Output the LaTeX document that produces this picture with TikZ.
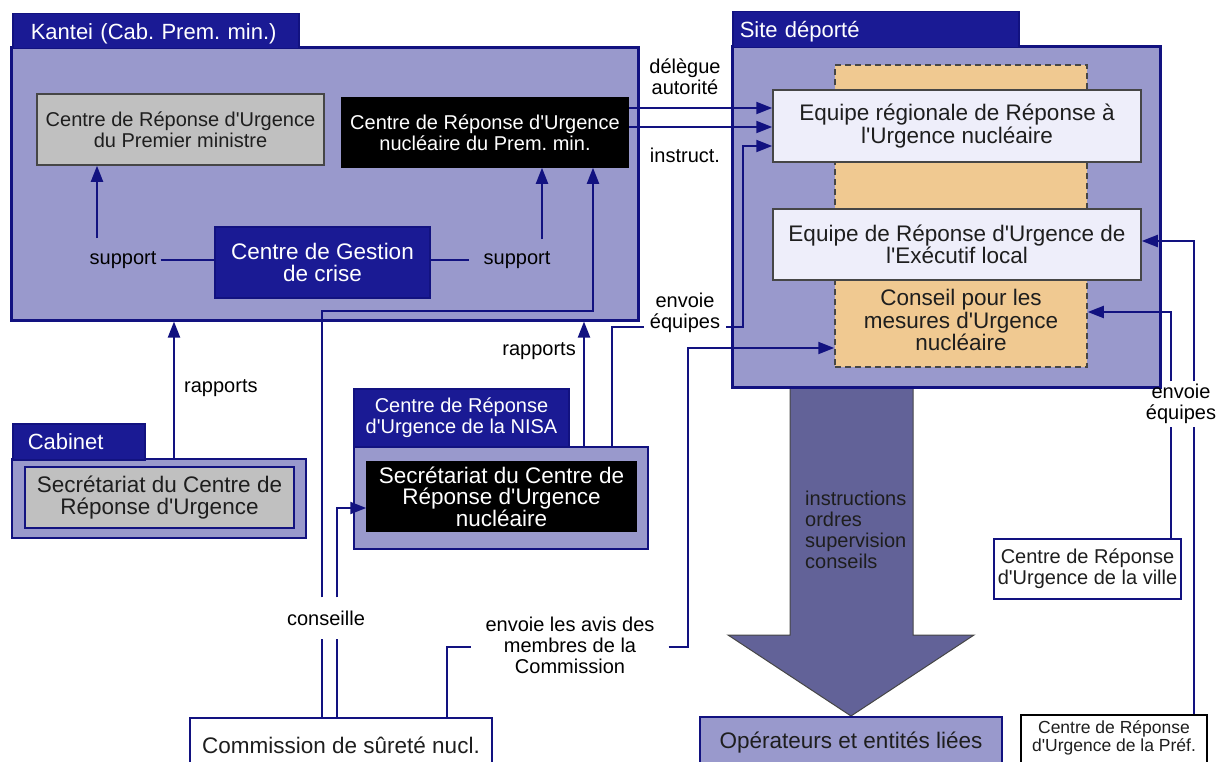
\documentclass[tikz,border=0pt]{standalone}
\usepackage{fontspec}
\setmainfont{Liberation Sans}[Ligatures=TeXOff]
\usetikzlibrary{arrows.meta}
\definecolor{lav}{RGB}{153,153,204}
\definecolor{navy}{RGB}{26,26,148}
\definecolor{edge}{RGB}{18,18,128}
\definecolor{pale}{RGB}{238,238,250}
\definecolor{greyfill}{RGB}{192,192,192}
\definecolor{tanfill}{RGB}{240,201,145}
\definecolor{bigfill}{RGB}{98,98,152}
\definecolor{darkline}{RGB}{70,70,70}
\definecolor{txt}{RGB}{30,30,30}
\newcommand\bigf{\fontsize{22.5bp}{22.5bp}\selectfont}
\newcommand\medf{\fontsize{20bp}{21bp}\selectfont}
\newcommand\smallf{\fontsize{17.5bp}{18bp}\selectfont}
\newcommand\tabf{\fontsize{22bp}{22bp}\selectfont}
\frenchspacing
\begin{document}
\begin{tikzpicture}[x=1bp,y=-1bp,
  box/.style={inner sep=0pt, align=center, line width=1.5bp},
  region/.style={box, fill=lav, draw=edge, line width=3bp},
  subregion/.style={box, fill=lav, draw=edge, line width=2bp},
  tabbox/.style={fill=navy, draw=edge, line width=1.5bp, text=white, font=\tabf, align=left, anchor=north west, inner ysep=0pt, text depth=0bp},
  greybox/.style={box, fill=greyfill, draw=darkline, text=txt},
  blackbox/.style={box, fill=black, draw=black, text=white},
  palebox/.style={box, fill=pale, draw=darkline, text=txt, font=\bigf},
  whitebox/.style={box, fill=white, draw=edge, line width=2bp, text=txt},
  lbl/.style={font=\medf, align=center, text=black, inner xsep=4bp, inner ysep=2bp},
  conn/.style={draw=edge, line width=2bp},
  arr/.style={conn, -{Triangle[length=16bp,width=12bp]}},
  sz/.style 2 args={minimum width=#1bp, minimum height=#2bp}
]
\useasboundingbox (0,0) rectangle (1220,762);

% big arrow
\draw[fill=bigfill, draw=darkline, line width=1bp]
  (790,385) -- (790,635) -- (728,635) -- (851,716) -- (974,635) -- (913,635) -- (913,385) -- cycle;
\node[font=\medf, align=left, anchor=west, text=txt, inner sep=0pt] (instr) at (805,530)
  {instructions\\ordres\\supervision\\conseils};

% Kantei
\node[region, sz={626}{272}] (kantei) at (325,184) {};
\node[tabbox, sz={286}{35}, text width=250bp, inner xsep=18bp] (kantab) at (12,13) {Kantei (Cab. Prem. min.)};
\node[greybox, font=\medf, sz={287}{71}] (pm) at (180.5,129.5) {Centre de Réponse d'Urgence\\du Premier ministre};
\node[blackbox, font=\medf, sz={286}{69}] (nuc) at (485,132.5) {Centre de Réponse d'Urgence\\nucléaire du Prem. min.};
\node[box, fill=navy, draw=edge, text=white, font=\bigf, sz={215}{71}] (gest) at (322.5,262.5) {Centre de Gestion\\de crise};

% Cabinet
\node[subregion, sz={294}{79}] (cab) at (159,498.5) {};
\node[tabbox, sz={132}{36}, text width=102bp, inner xsep=15bp] (cabtab) at (12,423) {Cabinet};
\node[box, fill=greyfill, draw=edge, text=txt, font=\bigf, sz={269}{61}] (csec) at (159.5,497.5) {Secrétariat du Centre de\\Réponse d'Urgence};

% NISA
\node[subregion, sz={294}{102}] (nisa) at (501,498) {};
\node[box, fill=navy, draw=edge, text=white, font=\medf, sz={215}{58}] (nisatab) at (461.5,418) {Centre de Réponse\\d'Urgence de la NISA};
\node[blackbox, font=\fontsize{22.5bp}{21.5bp}\selectfont, sz={269}{69}] (nsec) at (501.5,496.5) {Secrétariat du Centre de\\Réponse d'Urgence\\nucléaire};

% Site deporte
\node[region, sz={428}{340}] (site) at (946,217) {};
\node[tabbox, sz={286}{36}, text width=272bp, inner xsep=7bp] (sitetab) at (732,11) {Site déporté};
\node[box, fill=tanfill, draw=darkline, dash pattern=on 6bp off 4bp, sz={252}{302}] (cons) at (961,216) {};
\node[font=\bigf, align=center, text=txt, inner sep=0pt] (constxt) at (961,320) {Conseil pour les\\mesures d'Urgence\\nucléaire};
\node[palebox, sz={368}{72}] (reg) at (957,126) {Equipe régionale de Réponse à\\l'Urgence nucléaire};
\node[palebox, sz={368}{71}] (loc) at (957,244.5) {Equipe de Réponse d'Urgence de\\l'Exécutif local};

% bottom boxes
\node[whitebox, font=\medf, sz={187}{60}] (ville) at (1087.5,569) {Centre de Réponse\\d'Urgence de la ville};
\node[box, fill=white, draw=black, line width=2bp, text=txt, font=\smallf, sz={186}{60}, text depth=17bp] (pref) at (1114,745) {Centre de Réponse\\d'Urgence de la Préf.};
\node[whitebox, line width=1.5bp, font=\bigf, sz={302}{54}] (comm) at (341,745) {Commission de sûreté nucl.};
\node[box, fill=lav, draw=edge, line width=2bp, text=txt, font=\bigf, sz={302}{52}] (oper) at (851,743) {Opérateurs et entités liées};

% labels
\node[lbl] (deleg) at (685,77) {délègue\\autorité};
\node[lbl] (instr2) at (685,155) {instruct.};
\node[lbl, inner xsep=6bp] (envl) at (685,313) {envoie\\équipes};
\node[lbl] (sup1) at (123,260) {support};
\node[lbl, inner xsep=14bp] (sup2) at (517,260) {support};
\node[lbl, anchor=west] (rap1) at (180,388) {rapports};
\node[lbl, anchor=east] (rap2) at (580,351) {rapports};
\node[lbl, inner ysep=13bp] (consl) at (326,618) {conseille};
\node[lbl, inner xsep=14bp] (avis) at (570,645) {envoie les avis des\\membres de la\\Commission};
\node[lbl, inner ysep=2.5bp] (envr) at (1181,404) {envoie\\équipes};

% connectors
\draw[arr] (nuc.east |- 0,108) -- (reg.west |- 0,108);
\draw[arr] (nuc.east |- 0,127) -- (reg.west |- 0,127);
\draw[conn] (nisa.north -| 612,0) |- (envl.west |- 0,327);
\draw[arr] (envl.east |- 0,327) -| (743,146) -- (reg.west |- 0,146);
\draw[arr] (nisa.north -| 584,0) -- (kantei.south -| 584,0);
\draw[arr] (cab.north -| 174,0) -- (kantei.south -| 174,0);
\draw[conn] (sup1.east) -- (sup1.east -| gest.west);
\draw[conn] (gest.east |- sup2.west) -- (sup2.west);
\coordinate (s1) at (97,238);
\draw[arr] (s1) -- (s1 |- pm.south);
\coordinate (s2) at (542,239);
\draw[arr] (s2) -- (s2 |- nuc.south);
\draw[conn] (comm.north -| 322,0) -- (consl.south -| 322,0);
\draw[arr] (consl.north -| 322,0) |- (593,311) -- (593,0 |- nuc.south);
\draw[conn] (comm.north -| 337,0) -- (consl.south -| 337,0);
\draw[arr] (consl.north -| 337,0) |- (nsec.west |- 0,508);
\draw[conn] (comm.north -| 447,0) |- (avis.west |- 0,647);
\draw[arr] (avis.east |- 0,647) -| (688,348) -- (cons.west |- 0,348);
\draw[conn] (ville.north -| 1171,0) -- (envr.south -| 1171,0);
\draw[arr] (envr.north -| 1171,0) |- (cons.east |- 0,312);
\draw[conn] (pref.north -| 1194,0) -- (envr.south -| 1194,0);
\draw[arr] (envr.north -| 1194,0) |- (loc.east |- 0,241);
\end{tikzpicture}
\end{document}
